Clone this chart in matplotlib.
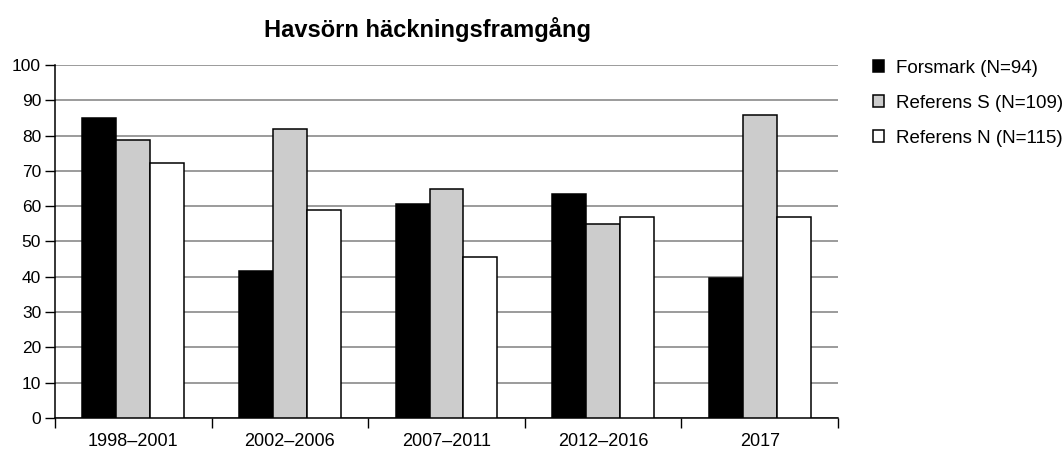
import matplotlib.pyplot as plt
import numpy as np

plt.rcParams['font.family'] = ['Liberation Sans', 'DejaVu Sans']

periods = ['1998–2001', '2002–2006', '2007–2011', '2012–2016', '2017']
forsmark = [85, 41.7, 60.5, 63.5, 39.8]
referens_s = [78.8, 81.8, 65, 55, 85.8]
referens_n = [72.1, 58.9, 45.6, 56.8, 56.8]

series = [
    ('Forsmark (N=94)', forsmark, 'black'),
    ('Referens S (N=109)', referens_s, '#cccccc'),
    ('Referens N (N=115)', referens_n, 'white'),
]

fig = plt.figure(figsize=(10.63, 4.5), dpi=100)
ax = fig.add_axes([55 / 1063, 32 / 450, 783 / 1063, 353 / 450])

x = np.arange(len(periods))
w = 0.217
for i, (name, vals, col) in enumerate(series):
    ax.bar(x + (i - 1) * w, vals, w, color=col, edgecolor='black',
           linewidth=1.1, label=name, zorder=3)

ax.set_xlim(-0.5, len(periods) - 0.5)
ax.set_ylim(0, 100)
ax.set_yticks(range(0, 101, 10))
ax.yaxis.grid(True, color='#808080', linewidth=1.1, zorder=0)
ax.set_axisbelow(True)

# category labels at group centres, tick marks between the groups
ax.set_xticks(x)
ax.set_xticklabels(periods)
ax.set_xticks(np.arange(-0.5, len(periods)), minor=True)
ax.tick_params(axis='x', which='major', length=0, pad=11, labelsize=13)
ax.tick_params(axis='x', which='minor', length=7, width=1, direction='out')
ax.tick_params(axis='y', length=7, width=1, labelsize=12.5, pad=3)

for s in ['top', 'right']:
    ax.spines[s].set_visible(False)
for s in ['left', 'bottom']:
    ax.spines[s].set_linewidth(1.1)

fig.text(427 / 1063, 1 - 30 / 450, 'Havsörn häckningsframgång',
         ha='center', va='center', fontsize=17, fontweight='bold')

ax.legend(loc='upper left', bbox_to_anchor=(873 / 1063, 1 - 60 / 450),
          bbox_transform=fig.transFigure, frameon=False, fontsize=13.5,
          handlelength=0.6, handleheight=0.6, handletextpad=0.6,
          labelspacing=0.95, borderaxespad=0, borderpad=0)

fig.savefig('out.png', dpi=100)
